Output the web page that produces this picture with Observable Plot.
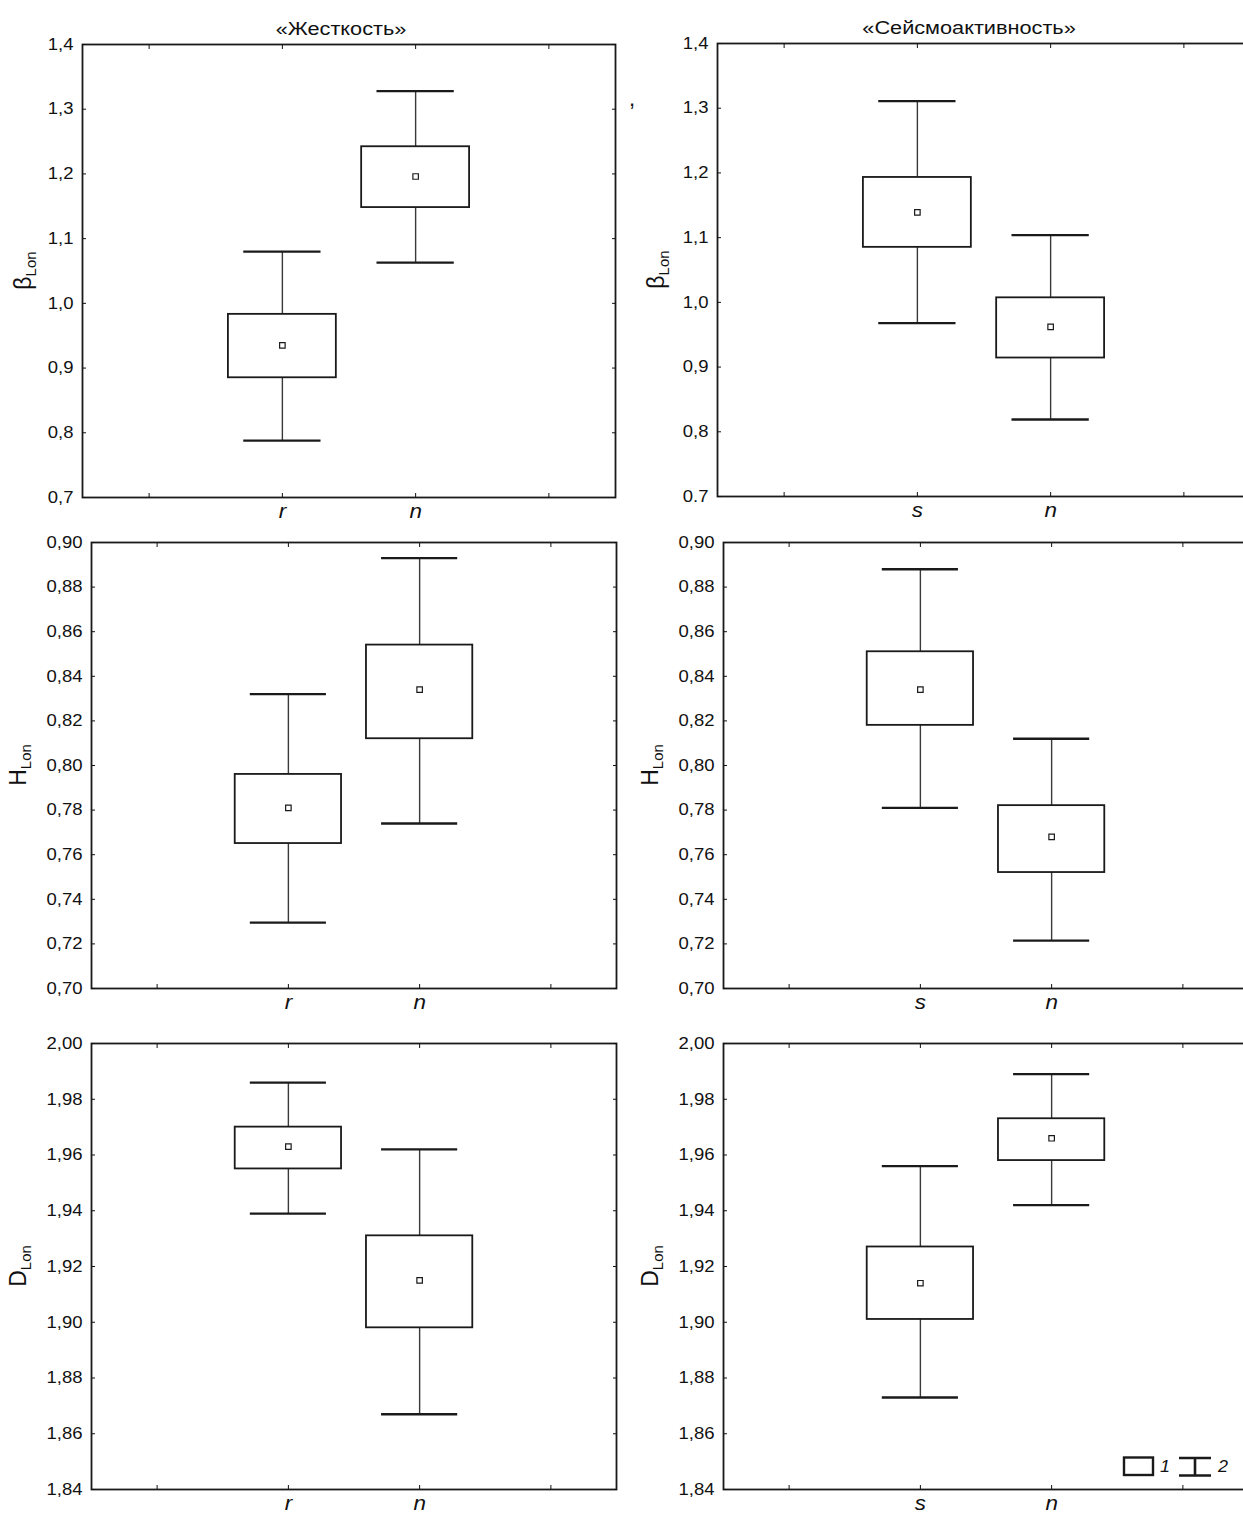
<!DOCTYPE html>
<html>
<head>
<meta charset="utf-8">
<script src="https://cdn.jsdelivr.net/npm/d3@7"></script>
<script src="https://cdn.jsdelivr.net/npm/@observablehq/plot@0.6"></script>
<style>
  html, body { margin: 0; padding: 0; background: #fff; overflow: hidden; }
  #root { position: relative; width: 1243px; height: 1514px; overflow: hidden; background: #fff;
          font-family: "Liberation Sans", Arial, Helvetica, sans-serif; color: #111; }
  #root svg { position: absolute; overflow: visible; }
  .stray { position: absolute; font-size: 22px; line-height: 1; }
</style>
</head>
<body>
<div id="root"></div>
<script>
// ---------- data ----------
const groupsStiffness = ["r", "n"];
const groupsSeismic = ["s", "n"];
const categoryPositions = [1.5, 2.5];
const xTicks = [0.5, 1.5, 2.5, 3.5];

const titleStiffness = "«Жесткость»";
const titleSeismic = "«Сейсмоактивность»";

// each row: whisker low, box low, mean, box high, whisker high
const betaStiffness = [
  { wLow: 0.788, bLow: 0.885, mean: 0.935, bHigh: 0.983, wHigh: 1.080 },
  { wLow: 1.063, bLow: 1.148, mean: 1.196, bHigh: 1.242, wHigh: 1.328 }
];
const betaSeismic = [
  { wLow: 0.968, bLow: 1.085, mean: 1.139, bHigh: 1.193, wHigh: 1.311 },
  { wLow: 0.819, bLow: 0.914, mean: 0.962, bHigh: 1.007, wHigh: 1.104 }
];
const hStiffness = [
  { wLow: 0.7295, bLow: 0.765, mean: 0.781, bHigh: 0.796, wHigh: 0.832 },
  { wLow: 0.774, bLow: 0.812, mean: 0.834, bHigh: 0.854, wHigh: 0.893 }
];
const hSeismic = [
  { wLow: 0.781, bLow: 0.818, mean: 0.834, bHigh: 0.851, wHigh: 0.888 },
  { wLow: 0.7215, bLow: 0.752, mean: 0.768, bHigh: 0.782, wHigh: 0.812 }
];
const dStiffness = [
  { wLow: 1.939, bLow: 1.955, mean: 1.963, bHigh: 1.970, wHigh: 1.986 },
  { wLow: 1.867, bLow: 1.898, mean: 1.915, bHigh: 1.931, wHigh: 1.962 }
];
const dSeismic = [
  { wLow: 1.873, bLow: 1.901, mean: 1.914, bHigh: 1.927, wHigh: 1.956 },
  { wLow: 1.942, bLow: 1.958, mean: 1.966, bHigh: 1.973, wHigh: 1.989 }
];

const betaTicks = [0.7, 0.8, 0.9, 1.0, 1.1, 1.2, 1.3, 1.4];
const betaTickLabels = ["0,7", "0,8", "0,9", "1,0", "1,1", "1,2", "1,3", "1,4"];
const betaTickLabelsRight = ["0.7", "0,8", "0,9", "1,0", "1,1", "1,2", "1,3", "1,4"];
const hTicks = [0.70, 0.72, 0.74, 0.76, 0.78, 0.80, 0.82, 0.84, 0.86, 0.88, 0.90];
const hTickLabels = ["0,70", "0,72", "0,74", "0,76", "0,78", "0,80", "0,82", "0,84", "0,86", "0,88", "0,90"];
const dTicks = [1.84, 1.86, 1.88, 1.90, 1.92, 1.94, 1.96, 1.98, 2.00];
const dTickLabels = ["1,84", "1,86", "1,88", "1,90", "1,92", "1,94", "1,96", "1,98", "2,00"];

const legendLabels = ["1", "2"];

// ---------- layout ----------
const root = document.getElementById("root");
const ML = 80, MT = 40, MR = 12, MB = 34;
const FONT = '"Liberation Sans", Arial, Helvetica, sans-serif';

function panel(cfg) {
  const rows = cfg.data.map((d, i) => ({ ...d, x: categoryPositions[i], group: cfg.groups[i] }));
  const yFmt = new Map(cfg.yTicks.map((t, i) => [t, cfg.yLabels[i]]));
  const xFmt = new Map(categoryPositions.map((p, i) => [p, cfg.groups[i]]));
  const marks = [
    Plot.ruleX(rows, { x: "x", y1: "wLow", y2: "wHigh", stroke: "#3a3a3a", strokeWidth: 1.4 }),
    Plot.ruleY(rows, { y: "wHigh", x1: d => d.x - 0.29, x2: d => d.x + 0.29, stroke: "#1a1a1a", strokeWidth: 2.3 }),
    Plot.ruleY(rows, { y: "wLow", x1: d => d.x - 0.29, x2: d => d.x + 0.29, stroke: "#1a1a1a", strokeWidth: 2.3 }),
    Plot.rect(rows, { x1: d => d.x - 0.405, x2: d => d.x + 0.405, y1: "bLow", y2: "bHigh", fill: "white", stroke: "#1a1a1a", strokeWidth: 1.8 }),
    Plot.dot(rows, { x: "x", y: "mean", symbol: "square", r: 3.1, fill: "white", stroke: "#1a1a1a", strokeWidth: 1.2 }),
    Plot.frame({ stroke: "#1a1a1a", strokeWidth: 1.8 }),
    Plot.axisY({ ticks: cfg.yTicks, tickSize: -4, tickPadding: 13, tickFormat: t => yFmt.get(t), label: null, fontSize: 16.5 }),
    Plot.axisY({ anchor: "right", ticks: cfg.yTicks, tickSize: -4, tickFormat: () => "", label: null }),
    Plot.axisX({ ticks: xTicks, tickSize: -4, tickPadding: 10, tickFormat: t => xFmt.get(t) ?? "", label: null, fontSize: 20, fontStyle: "italic" }),
    Plot.axisX({ anchor: "top", ticks: xTicks, tickSize: -4, tickFormat: () => "", label: null })
  ];
  if (cfg.title) {
    marks.push(Plot.text([cfg.title], { frameAnchor: "top", lineAnchor: "bottom", dy: -10, dx: cfg.titleDx, fontSize: 17.5, className: "ptitle" }));
  }
  const chart = Plot.plot({
    width: ML + cfg.frameW + MR,
    height: MT + cfg.frameH + MB,
    marginLeft: ML, marginTop: MT, marginRight: MR, marginBottom: MB,
    style: { fontFamily: FONT, fontSize: "16px", color: "#111", background: "transparent", overflow: "visible" },
    x: { domain: [0, 4] },
    y: { domain: cfg.yDomain },
    marks
  });
  chart.style.left = (cfg.frameLeft - ML) + "px";
  chart.style.top = (cfg.frameTop - MT) + "px";
  root.appendChild(chart);

  // y-axis title with subscript
  const svg = d3.select(chart);
  const t = svg.append("text")
    .attr("transform", `translate(${ML - cfg.labelOffset},${MT + cfg.frameH / 2}) rotate(-90)`)
    .attr("text-anchor", "middle")
    .attr("font-family", FONT)
    .attr("fill", "#111")
    .attr("class", "ylabel");
  t.append("tspan").attr("font-size", 23).text(cfg.yName);
  t.append("tspan").attr("font-size", 15).attr("dy", 5).text("Lon");
  return chart;
}

panel({ data: betaStiffness, groups: groupsStiffness, yDomain: [0.7, 1.4], yTicks: betaTicks, yLabels: betaTickLabels,
        frameLeft: 82, frameTop: 44, frameW: 533, frameH: 453, yName: "β", labelOffset: 51, title: titleStiffness, titleDx: -8 });
panel({ data: betaSeismic, groups: groupsSeismic, yDomain: [0.7, 1.4], yTicks: betaTicks, yLabels: betaTickLabelsRight,
        frameLeft: 717, frameTop: 43, frameW: 533, frameH: 453, yName: "β", labelOffset: 53, title: titleSeismic, titleDx: -15 });
panel({ data: hStiffness, groups: groupsStiffness, yDomain: [0.70, 0.90], yTicks: hTicks, yLabels: hTickLabels,
        frameLeft: 91, frameTop: 542, frameW: 525, frameH: 446, yName: "H", labelOffset: 65 });
panel({ data: hSeismic, groups: groupsSeismic, yDomain: [0.70, 0.90], yTicks: hTicks, yLabels: hTickLabels,
        frameLeft: 723, frameTop: 542, frameW: 525, frameH: 446, yName: "H", labelOffset: 65 });
panel({ data: dStiffness, groups: groupsStiffness, yDomain: [1.84, 2.00], yTicks: dTicks, yLabels: dTickLabels,
        frameLeft: 91, frameTop: 1043, frameW: 525, frameH: 446, yName: "D", labelOffset: 65 });
panel({ data: dSeismic, groups: groupsSeismic, yDomain: [1.84, 2.00], yTicks: dTicks, yLabels: dTickLabels,
        frameLeft: 723, frameTop: 1043, frameW: 525, frameH: 446, yName: "D", labelOffset: 65 });

// legend (box = 1, whisker = 2)
const lg = d3.select(root).append("svg")
  .attr("width", 130).attr("height", 32)
  .style("left", "1117px").style("top", "1451px");
lg.append("rect").attr("x", 7).attr("y", 6.5).attr("width", 29).attr("height", 17.5)
  .attr("fill", "white").attr("stroke", "#1a1a1a").attr("stroke-width", 2.4);
lg.append("text").attr("x", 43).attr("y", 21).attr("font-family", FONT).attr("font-size", 16)
  .attr("font-style", "italic").attr("fill", "#111").text(legendLabels[0]);
lg.append("path").attr("d", "M62,7H94M78,7V24.5M62,24.5H94")
  .attr("fill", "none").attr("stroke", "#1a1a1a").attr("stroke-width", 2.6);
lg.append("text").attr("x", 101).attr("y", 21).attr("font-family", FONT).attr("font-size", 16)
  .attr("font-style", "italic").attr("fill", "#111").text(legendLabels[1]);

// stray mark present in the original figure
const stray = document.createElement("div");
stray.className = "stray";
stray.style.left = "629px"; stray.style.top = "88px";
stray.textContent = ",";
root.appendChild(stray);

// the original figure is slightly stretched horizontally: widen horizontal texts
document.querySelectorAll("#root svg text").forEach(el => {
  if (el.classList.contains("ylabel")) return;
  if (el.children.length > 0) return;
  const len = el.getComputedTextLength();
  if (len > 0) {
    const k = el.closest(".ptitle") ? 1.24 : 1.12;
    el.setAttribute("textLength", (len * k).toFixed(1));
    el.setAttribute("lengthAdjust", "spacingAndGlyphs");
  }
});
</script>
</body>
</html>
